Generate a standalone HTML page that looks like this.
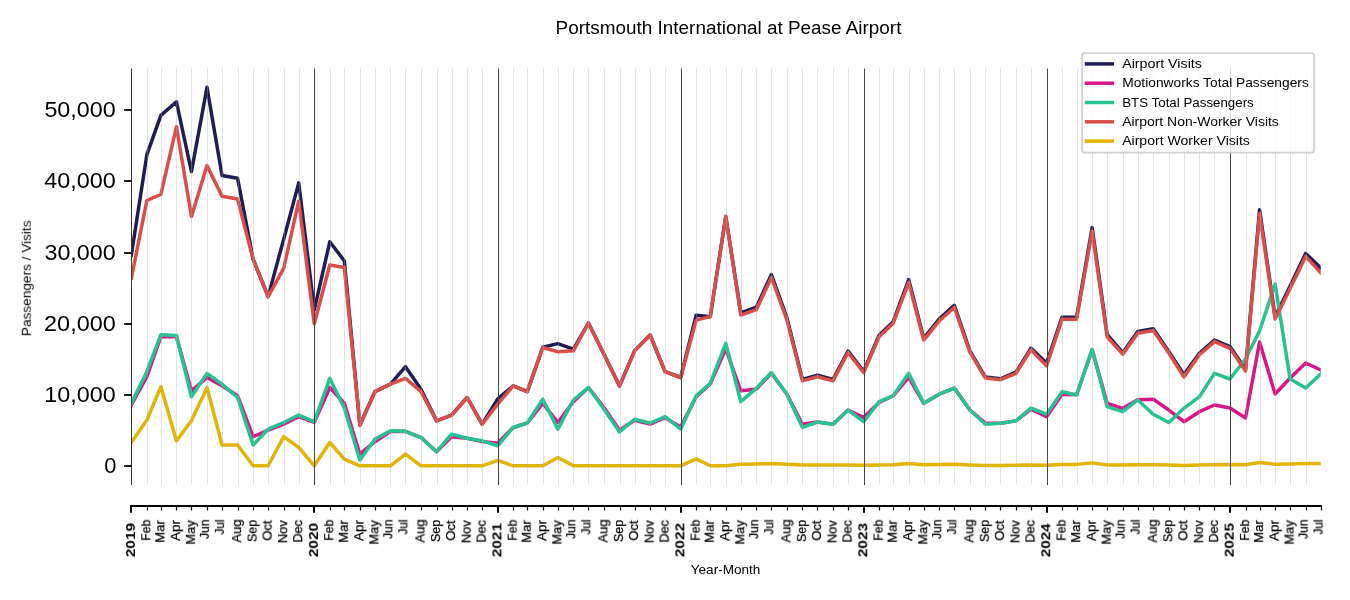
<!DOCTYPE html><html><head><meta charset="utf-8"><title>Portsmouth International at Pease Airport</title>
<style>html,body{margin:0;padding:0;background:#fff;}svg{display:block;font-family:"Liberation Sans",sans-serif;}text{will-change:transform;}.m{stroke:#000;stroke-width:0.25px;}</style></head><body>
<svg width="1350" height="600" viewBox="0 0 1350 600">
<rect width="1350" height="600" fill="#fff"/>
<defs><clipPath id="ax"><rect x="131.32" y="68.5" width="1189.43" height="416.5"/></clipPath></defs>
<g clip-path="url(#ax)" fill="none" stroke-width="3.5" stroke-linejoin="round" stroke-linecap="square">
<polyline points="131.32,254.99 146.86,154.71 160.89,115.33 176.43,101.79 191.47,171.52 207.00,87.34 222.04,175.44 237.58,178.28 253.12,259.26 268.15,296.65 283.69,239.18 298.73,182.91 314.27,309.83 329.80,241.74 344.34,260.90 359.88,424.99 374.91,391.66 390.45,384.18 405.49,366.66 421.03,389.17 436.56,420.86 451.60,415.02 467.14,397.50 482.17,424.21 497.71,398.85 513.25,385.82 527.28,391.66 542.82,347.22 557.86,343.66 573.40,349.14 588.43,323.00 603.97,354.20 619.51,386.10 634.54,350.85 650.08,334.97 665.12,371.72 680.66,377.49 696.19,315.17 710.23,316.67 725.77,216.53 740.80,312.89 756.34,307.19 771.38,274.50 786.92,317.88 802.45,379.41 817.49,375.28 833.03,379.41 848.06,351.06 863.60,371.43 879.14,335.25 893.17,321.65 908.71,279.56 923.75,338.32 939.29,318.87 954.32,305.34 969.86,350.78 985.40,377.06 1000.44,378.77 1015.97,372.22 1031.01,348.29 1046.55,363.10 1062.09,317.16 1076.62,317.16 1092.16,227.64 1107.20,334.76 1122.73,352.70 1137.77,331.55 1153.31,328.84 1168.85,351.85 1183.88,374.42 1199.42,353.27 1214.46,340.10 1229.99,346.51 1245.53,369.41 1259.57,209.84 1275.10,316.81 1290.14,285.97 1305.68,253.42 1320.72,267.81" stroke="#1f1e54"/>
<polyline points="131.32,404.98 146.86,376.70 160.89,336.68 176.43,336.68 191.47,390.81 207.00,377.49 222.04,385.82 237.58,395.79 253.12,436.67 268.15,430.19 283.69,424.14 298.73,416.66 314.27,422.36 329.80,387.46 344.34,403.30 359.88,454.19 374.91,441.66 390.45,431.61 405.49,431.33 421.03,437.53 436.56,451.70 451.60,436.67 467.14,438.31 482.17,441.59 497.71,443.29 513.25,427.48 527.28,423.00 542.82,403.30 557.86,422.50 573.40,401.70 588.43,387.53 603.97,407.47 619.51,430.19 634.54,420.22 650.08,424.14 665.12,417.73 680.66,426.99 696.19,396.72 710.23,383.90 725.77,349.00 740.80,390.81 756.34,389.17 771.38,373.21 786.92,394.22 802.45,424.21 817.49,422.00 833.03,424.21 848.06,410.03 863.60,417.51 879.14,402.41 893.17,395.79 908.71,377.49 923.75,403.30 939.29,394.22 954.32,388.03 969.86,410.03 985.40,423.07 1000.44,423.35 1015.97,420.86 1031.01,409.18 1046.55,416.66 1062.09,394.22 1076.62,394.58 1092.16,350.00 1107.20,403.30 1122.73,408.33 1137.77,399.78 1153.31,399.21 1168.85,410.03 1183.88,421.71 1199.42,411.67 1214.46,404.98 1229.99,407.97 1245.53,418.01 1259.57,342.02 1275.10,394.01 1290.14,377.99 1305.68,362.96 1320.72,370.01" stroke="#d71788"/>
<polyline points="131.32,403.30 146.86,371.72 160.89,334.68 176.43,335.47 191.47,396.72 207.00,373.36 222.04,384.18 237.58,397.50 253.12,445.00 268.15,429.19 283.69,422.50 298.73,415.02 314.27,421.71 329.80,378.34 344.34,408.33 359.88,460.03 374.91,439.16 390.45,430.83 405.49,431.33 421.03,437.53 436.56,451.70 451.60,434.18 467.14,438.31 482.17,440.80 497.71,445.79 513.25,427.48 527.28,423.00 542.82,399.21 557.86,429.19 573.40,399.99 588.43,387.53 603.97,409.18 619.51,431.97 634.54,419.22 650.08,423.00 665.12,416.66 680.66,429.19 696.19,395.79 710.23,383.33 725.77,343.30 740.80,401.70 756.34,388.31 771.38,372.50 786.92,394.22 802.45,427.48 817.49,422.00 833.03,424.21 848.06,410.03 863.60,421.71 879.14,401.70 893.17,395.79 908.71,373.36 923.75,403.30 939.29,394.22 954.32,388.03 969.86,410.03 985.40,424.21 1000.44,423.35 1015.97,420.86 1031.01,408.04 1046.55,414.17 1062.09,391.66 1076.62,395.01 1092.16,349.43 1107.20,406.69 1122.73,411.67 1137.77,399.99 1153.31,414.17 1168.85,422.50 1183.88,408.33 1199.42,396.72 1214.46,373.36 1229.99,378.98 1245.53,358.97 1259.57,330.98 1275.10,283.98 1290.14,378.98 1305.68,388.03 1320.72,374.00" stroke="#26c292"/>
<polyline points="131.32,278.28 146.86,200.51 160.89,194.45 176.43,126.79 191.47,216.53 207.00,165.61 222.04,196.23 237.58,199.08 253.12,259.26 268.15,296.65 283.69,268.31 298.73,201.22 314.27,323.72 329.80,265.03 344.34,267.52 359.88,424.99 374.91,391.66 390.45,384.18 405.49,378.34 421.03,391.66 436.56,420.86 451.60,415.02 467.14,397.50 482.17,424.21 497.71,404.19 513.25,385.82 527.28,391.66 542.82,347.50 557.86,351.71 573.40,350.85 588.43,323.00 603.97,354.20 619.51,386.10 634.54,350.85 650.08,334.97 665.12,371.72 680.66,377.49 696.19,320.16 710.23,316.67 725.77,216.53 740.80,315.03 756.34,309.69 771.38,277.49 786.92,320.01 802.45,380.83 817.49,376.70 833.03,380.83 848.06,352.49 863.60,372.50 879.14,336.68 893.17,323.36 908.71,282.48 923.75,340.03 939.29,320.80 954.32,307.48 969.86,352.20 985.40,377.99 1000.44,379.70 1015.97,373.36 1031.01,349.71 1046.55,365.88 1062.09,319.16 1076.62,319.16 1092.16,231.13 1107.20,336.96 1122.73,354.13 1137.77,333.19 1153.31,330.48 1168.85,353.27 1183.88,376.92 1199.42,354.70 1214.46,341.66 1229.99,348.29 1245.53,371.01 1259.57,213.61 1275.10,319.02 1290.14,288.46 1305.68,256.41 1320.72,272.79" stroke="#d94e4a"/>
<polyline points="131.32,442.51 146.86,420.01 160.89,386.67 176.43,440.80 191.47,420.79 207.00,387.53 222.04,445.00 237.58,445.00 253.12,465.80 268.15,465.80 283.69,436.67 298.73,447.50 314.27,465.80 329.80,442.51 344.34,459.18 359.88,465.80 374.91,465.80 390.45,465.80 405.49,454.19 421.03,465.80 436.56,465.80 451.60,465.80 467.14,465.80 482.17,465.80 497.71,460.46 513.25,465.80 527.28,465.80 542.82,465.80 557.86,457.47 573.40,465.80 588.43,465.80 603.97,465.80 619.51,465.80 634.54,465.80 650.08,465.80 665.12,465.80 680.66,465.80 696.19,458.89 710.23,465.80 725.77,465.80 740.80,464.23 756.34,463.88 771.38,463.38 786.92,464.23 802.45,464.95 817.49,464.95 833.03,464.95 848.06,464.95 863.60,465.30 879.14,464.95 893.17,464.66 908.71,463.45 923.75,464.66 939.29,464.45 954.32,464.23 969.86,464.95 985.40,465.44 1000.44,465.44 1015.97,465.23 1031.01,464.95 1046.55,465.30 1062.09,464.38 1076.62,464.38 1092.16,462.88 1107.20,464.95 1122.73,464.95 1137.77,464.73 1153.31,464.73 1168.85,464.95 1183.88,465.44 1199.42,464.95 1214.46,464.80 1229.99,464.59 1245.53,464.77 1259.57,462.60 1275.10,464.16 1290.14,463.88 1305.68,463.38 1320.72,463.38" stroke="#e2b404"/>
</g>
<g stroke="#b0b0b0" stroke-opacity="0.35" stroke-width="1">
<line x1="147.5" y1="68.5" x2="147.5" y2="485.0"/>
<line x1="161.5" y1="68.5" x2="161.5" y2="485.0"/>
<line x1="176.5" y1="68.5" x2="176.5" y2="485.0"/>
<line x1="191.5" y1="68.5" x2="191.5" y2="485.0"/>
<line x1="207.5" y1="68.5" x2="207.5" y2="485.0"/>
<line x1="222.5" y1="68.5" x2="222.5" y2="485.0"/>
<line x1="238.5" y1="68.5" x2="238.5" y2="485.0"/>
<line x1="253.5" y1="68.5" x2="253.5" y2="485.0"/>
<line x1="268.5" y1="68.5" x2="268.5" y2="485.0"/>
<line x1="284.5" y1="68.5" x2="284.5" y2="485.0"/>
<line x1="299.5" y1="68.5" x2="299.5" y2="485.0"/>
<line x1="330.5" y1="68.5" x2="330.5" y2="485.0"/>
<line x1="344.5" y1="68.5" x2="344.5" y2="485.0"/>
<line x1="360.5" y1="68.5" x2="360.5" y2="485.0"/>
<line x1="375.5" y1="68.5" x2="375.5" y2="485.0"/>
<line x1="390.5" y1="68.5" x2="390.5" y2="485.0"/>
<line x1="405.5" y1="68.5" x2="405.5" y2="485.0"/>
<line x1="421.5" y1="68.5" x2="421.5" y2="485.0"/>
<line x1="437.5" y1="68.5" x2="437.5" y2="485.0"/>
<line x1="452.5" y1="68.5" x2="452.5" y2="485.0"/>
<line x1="467.5" y1="68.5" x2="467.5" y2="485.0"/>
<line x1="482.5" y1="68.5" x2="482.5" y2="485.0"/>
<line x1="513.5" y1="68.5" x2="513.5" y2="485.0"/>
<line x1="527.5" y1="68.5" x2="527.5" y2="485.0"/>
<line x1="543.5" y1="68.5" x2="543.5" y2="485.0"/>
<line x1="558.5" y1="68.5" x2="558.5" y2="485.0"/>
<line x1="573.5" y1="68.5" x2="573.5" y2="485.0"/>
<line x1="588.5" y1="68.5" x2="588.5" y2="485.0"/>
<line x1="604.5" y1="68.5" x2="604.5" y2="485.0"/>
<line x1="620.5" y1="68.5" x2="620.5" y2="485.0"/>
<line x1="635.5" y1="68.5" x2="635.5" y2="485.0"/>
<line x1="650.5" y1="68.5" x2="650.5" y2="485.0"/>
<line x1="665.5" y1="68.5" x2="665.5" y2="485.0"/>
<line x1="696.5" y1="68.5" x2="696.5" y2="485.0"/>
<line x1="710.5" y1="68.5" x2="710.5" y2="485.0"/>
<line x1="726.5" y1="68.5" x2="726.5" y2="485.0"/>
<line x1="741.5" y1="68.5" x2="741.5" y2="485.0"/>
<line x1="756.5" y1="68.5" x2="756.5" y2="485.0"/>
<line x1="771.5" y1="68.5" x2="771.5" y2="485.0"/>
<line x1="787.5" y1="68.5" x2="787.5" y2="485.0"/>
<line x1="802.5" y1="68.5" x2="802.5" y2="485.0"/>
<line x1="817.5" y1="68.5" x2="817.5" y2="485.0"/>
<line x1="833.5" y1="68.5" x2="833.5" y2="485.0"/>
<line x1="848.5" y1="68.5" x2="848.5" y2="485.0"/>
<line x1="879.5" y1="68.5" x2="879.5" y2="485.0"/>
<line x1="893.5" y1="68.5" x2="893.5" y2="485.0"/>
<line x1="909.5" y1="68.5" x2="909.5" y2="485.0"/>
<line x1="924.5" y1="68.5" x2="924.5" y2="485.0"/>
<line x1="939.5" y1="68.5" x2="939.5" y2="485.0"/>
<line x1="954.5" y1="68.5" x2="954.5" y2="485.0"/>
<line x1="970.5" y1="68.5" x2="970.5" y2="485.0"/>
<line x1="985.5" y1="68.5" x2="985.5" y2="485.0"/>
<line x1="1000.5" y1="68.5" x2="1000.5" y2="485.0"/>
<line x1="1016.5" y1="68.5" x2="1016.5" y2="485.0"/>
<line x1="1031.5" y1="68.5" x2="1031.5" y2="485.0"/>
<line x1="1062.5" y1="68.5" x2="1062.5" y2="485.0"/>
<line x1="1077.5" y1="68.5" x2="1077.5" y2="485.0"/>
<line x1="1092.5" y1="68.5" x2="1092.5" y2="485.0"/>
<line x1="1107.5" y1="68.5" x2="1107.5" y2="485.0"/>
<line x1="1123.5" y1="68.5" x2="1123.5" y2="485.0"/>
<line x1="1138.5" y1="68.5" x2="1138.5" y2="485.0"/>
<line x1="1153.5" y1="68.5" x2="1153.5" y2="485.0"/>
<line x1="1169.5" y1="68.5" x2="1169.5" y2="485.0"/>
<line x1="1184.5" y1="68.5" x2="1184.5" y2="485.0"/>
<line x1="1199.5" y1="68.5" x2="1199.5" y2="485.0"/>
<line x1="1214.5" y1="68.5" x2="1214.5" y2="485.0"/>
<line x1="1246.5" y1="68.5" x2="1246.5" y2="485.0"/>
<line x1="1260.5" y1="68.5" x2="1260.5" y2="485.0"/>
<line x1="1275.5" y1="68.5" x2="1275.5" y2="485.0"/>
<line x1="1290.5" y1="68.5" x2="1290.5" y2="485.0"/>
<line x1="1306.5" y1="68.5" x2="1306.5" y2="485.0"/>
</g>
<g stroke="#464646" stroke-width="1">
<line x1="314.5" y1="68.5" x2="314.5" y2="485.0"/>
<line x1="498.5" y1="68.5" x2="498.5" y2="485.0"/>
<line x1="681.5" y1="68.5" x2="681.5" y2="485.0"/>
<line x1="864.5" y1="68.5" x2="864.5" y2="485.0"/>
<line x1="1047.5" y1="68.5" x2="1047.5" y2="485.0"/>
<line x1="1230.5" y1="68.5" x2="1230.5" y2="485.0"/>
</g>
<line x1="131.5" y1="68.5" x2="131.5" y2="485.0" stroke="#383838" stroke-width="1"/>
<line x1="124.1" y1="466" x2="131.5" y2="466" stroke="#000" stroke-width="1.8"/>
<text x="104.27" y="473.20" font-size="22.6" textLength="12.18" lengthAdjust="spacingAndGlyphs">0</text>
<line x1="124.1" y1="395" x2="131.5" y2="395" stroke="#000" stroke-width="1.8"/>
<text x="44.27" y="401.98" font-size="22.6" textLength="71.43" lengthAdjust="spacingAndGlyphs">10,000</text>
<line x1="124.1" y1="324" x2="131.5" y2="324" stroke="#000" stroke-width="1.8"/>
<text x="44.08" y="330.76" font-size="22.6" textLength="71.63" lengthAdjust="spacingAndGlyphs">20,000</text>
<line x1="124.1" y1="253" x2="131.5" y2="253" stroke="#000" stroke-width="1.8"/>
<text x="44.43" y="259.54" font-size="22.6" textLength="71.28" lengthAdjust="spacingAndGlyphs">30,000</text>
<line x1="124.1" y1="181" x2="131.5" y2="181" stroke="#000" stroke-width="1.8"/>
<text x="44.26" y="188.32" font-size="22.6" textLength="71.45" lengthAdjust="spacingAndGlyphs">40,000</text>
<line x1="124.1" y1="110" x2="131.5" y2="110" stroke="#000" stroke-width="1.8"/>
<text x="44.42" y="117.10" font-size="22.6" textLength="71.28" lengthAdjust="spacingAndGlyphs">50,000</text>
<line x1="130" y1="506" x2="1322" y2="506" stroke="#000" stroke-width="2"/>
<line x1="131" y1="506" x2="131" y2="512.75" stroke="#000" stroke-width="2"/>
<text transform="translate(134.97,557.24) rotate(-90)" font-size="12.2" font-weight="bold" textLength="34.31" lengthAdjust="spacingAndGlyphs">2019</text>
<line x1="147.5" y1="506" x2="147.5" y2="510.5" stroke="#000" stroke-width="1.2"/>
<text transform="translate(150.26,540.71) rotate(-90)" class="m" font-size="12.4" textLength="20.90" lengthAdjust="spacingAndGlyphs">Feb</text>
<line x1="161.5" y1="506" x2="161.5" y2="510.5" stroke="#000" stroke-width="1.2"/>
<text transform="translate(164.29,542.84) rotate(-90)" class="m" font-size="12.4" textLength="22.73" lengthAdjust="spacingAndGlyphs">Mar</text>
<line x1="176.5" y1="506" x2="176.5" y2="510.5" stroke="#000" stroke-width="1.2"/>
<text transform="translate(179.83,541.00) rotate(-90)" class="m" font-size="12.4" textLength="20.92" lengthAdjust="spacingAndGlyphs">Apr</text>
<line x1="191.5" y1="506" x2="191.5" y2="510.5" stroke="#000" stroke-width="1.2"/>
<text transform="translate(194.87,544.64) rotate(-90)" class="m" font-size="12.4" textLength="24.37" lengthAdjust="spacingAndGlyphs">May</text>
<line x1="207.5" y1="506" x2="207.5" y2="510.5" stroke="#000" stroke-width="1.2"/>
<text transform="translate(208.85,538.84) rotate(-90)" class="m" font-size="12.4" textLength="19.35" lengthAdjust="spacingAndGlyphs">Jun</text>
<line x1="222.5" y1="506" x2="222.5" y2="510.5" stroke="#000" stroke-width="1.2"/>
<text transform="translate(223.89,534.46) rotate(-90)" class="m" font-size="12.4" textLength="14.96" lengthAdjust="spacingAndGlyphs">Jul</text>
<line x1="238.5" y1="506" x2="238.5" y2="510.5" stroke="#000" stroke-width="1.2"/>
<text transform="translate(240.98,542.59) rotate(-90)" class="m" font-size="12.4" textLength="23.13" lengthAdjust="spacingAndGlyphs">Aug</text>
<line x1="253.5" y1="506" x2="253.5" y2="510.5" stroke="#000" stroke-width="1.2"/>
<text transform="translate(256.52,542.04) rotate(-90)" class="m" font-size="12.4" textLength="22.27" lengthAdjust="spacingAndGlyphs">Sep</text>
<line x1="268.5" y1="506" x2="268.5" y2="510.5" stroke="#000" stroke-width="1.2"/>
<text transform="translate(271.55,540.73) rotate(-90)" class="m" font-size="12.4" textLength="20.54" lengthAdjust="spacingAndGlyphs">Oct</text>
<line x1="284.5" y1="506" x2="284.5" y2="510.5" stroke="#000" stroke-width="1.2"/>
<text transform="translate(287.09,543.27) rotate(-90)" class="m" font-size="12.4" textLength="23.05" lengthAdjust="spacingAndGlyphs">Nov</text>
<line x1="299.5" y1="506" x2="299.5" y2="510.5" stroke="#000" stroke-width="1.2"/>
<text transform="translate(302.13,542.65) rotate(-90)" class="m" font-size="12.4" textLength="22.72" lengthAdjust="spacingAndGlyphs">Dec</text>
<line x1="314" y1="506" x2="314" y2="512.75" stroke="#000" stroke-width="2"/>
<text transform="translate(317.92,557.24) rotate(-90)" font-size="12.2" font-weight="bold" textLength="34.39" lengthAdjust="spacingAndGlyphs">2020</text>
<line x1="330.5" y1="506" x2="330.5" y2="510.5" stroke="#000" stroke-width="1.2"/>
<text transform="translate(333.20,540.71) rotate(-90)" class="m" font-size="12.4" textLength="20.90" lengthAdjust="spacingAndGlyphs">Feb</text>
<line x1="344.5" y1="506" x2="344.5" y2="510.5" stroke="#000" stroke-width="1.2"/>
<text transform="translate(347.74,542.84) rotate(-90)" class="m" font-size="12.4" textLength="22.73" lengthAdjust="spacingAndGlyphs">Mar</text>
<line x1="360.5" y1="506" x2="360.5" y2="510.5" stroke="#000" stroke-width="1.2"/>
<text transform="translate(363.28,541.00) rotate(-90)" class="m" font-size="12.4" textLength="20.92" lengthAdjust="spacingAndGlyphs">Apr</text>
<line x1="375.5" y1="506" x2="375.5" y2="510.5" stroke="#000" stroke-width="1.2"/>
<text transform="translate(378.31,544.64) rotate(-90)" class="m" font-size="12.4" textLength="24.37" lengthAdjust="spacingAndGlyphs">May</text>
<line x1="390.5" y1="506" x2="390.5" y2="510.5" stroke="#000" stroke-width="1.2"/>
<text transform="translate(392.30,538.84) rotate(-90)" class="m" font-size="12.4" textLength="19.35" lengthAdjust="spacingAndGlyphs">Jun</text>
<line x1="405.5" y1="506" x2="405.5" y2="510.5" stroke="#000" stroke-width="1.2"/>
<text transform="translate(407.34,534.46) rotate(-90)" class="m" font-size="12.4" textLength="14.96" lengthAdjust="spacingAndGlyphs">Jul</text>
<line x1="421.5" y1="506" x2="421.5" y2="510.5" stroke="#000" stroke-width="1.2"/>
<text transform="translate(424.43,542.59) rotate(-90)" class="m" font-size="12.4" textLength="23.13" lengthAdjust="spacingAndGlyphs">Aug</text>
<line x1="437.5" y1="506" x2="437.5" y2="510.5" stroke="#000" stroke-width="1.2"/>
<text transform="translate(439.96,542.04) rotate(-90)" class="m" font-size="12.4" textLength="22.27" lengthAdjust="spacingAndGlyphs">Sep</text>
<line x1="452.5" y1="506" x2="452.5" y2="510.5" stroke="#000" stroke-width="1.2"/>
<text transform="translate(455.00,540.73) rotate(-90)" class="m" font-size="12.4" textLength="20.54" lengthAdjust="spacingAndGlyphs">Oct</text>
<line x1="467.5" y1="506" x2="467.5" y2="510.5" stroke="#000" stroke-width="1.2"/>
<text transform="translate(470.54,543.27) rotate(-90)" class="m" font-size="12.4" textLength="23.05" lengthAdjust="spacingAndGlyphs">Nov</text>
<line x1="482.5" y1="506" x2="482.5" y2="510.5" stroke="#000" stroke-width="1.2"/>
<text transform="translate(485.57,542.65) rotate(-90)" class="m" font-size="12.4" textLength="22.72" lengthAdjust="spacingAndGlyphs">Dec</text>
<line x1="498" y1="506" x2="498" y2="512.75" stroke="#000" stroke-width="2"/>
<text transform="translate(501.36,557.24) rotate(-90)" font-size="12.2" font-weight="bold" textLength="34.19" lengthAdjust="spacingAndGlyphs">2021</text>
<line x1="513.5" y1="506" x2="513.5" y2="510.5" stroke="#000" stroke-width="1.2"/>
<text transform="translate(516.65,540.71) rotate(-90)" class="m" font-size="12.4" textLength="20.90" lengthAdjust="spacingAndGlyphs">Feb</text>
<line x1="527.5" y1="506" x2="527.5" y2="510.5" stroke="#000" stroke-width="1.2"/>
<text transform="translate(530.68,542.84) rotate(-90)" class="m" font-size="12.4" textLength="22.73" lengthAdjust="spacingAndGlyphs">Mar</text>
<line x1="543.5" y1="506" x2="543.5" y2="510.5" stroke="#000" stroke-width="1.2"/>
<text transform="translate(546.22,541.00) rotate(-90)" class="m" font-size="12.4" textLength="20.92" lengthAdjust="spacingAndGlyphs">Apr</text>
<line x1="558.5" y1="506" x2="558.5" y2="510.5" stroke="#000" stroke-width="1.2"/>
<text transform="translate(561.26,544.64) rotate(-90)" class="m" font-size="12.4" textLength="24.37" lengthAdjust="spacingAndGlyphs">May</text>
<line x1="573.5" y1="506" x2="573.5" y2="510.5" stroke="#000" stroke-width="1.2"/>
<text transform="translate(575.25,538.84) rotate(-90)" class="m" font-size="12.4" textLength="19.35" lengthAdjust="spacingAndGlyphs">Jun</text>
<line x1="588.5" y1="506" x2="588.5" y2="510.5" stroke="#000" stroke-width="1.2"/>
<text transform="translate(590.28,534.46) rotate(-90)" class="m" font-size="12.4" textLength="14.96" lengthAdjust="spacingAndGlyphs">Jul</text>
<line x1="604.5" y1="506" x2="604.5" y2="510.5" stroke="#000" stroke-width="1.2"/>
<text transform="translate(607.37,542.59) rotate(-90)" class="m" font-size="12.4" textLength="23.13" lengthAdjust="spacingAndGlyphs">Aug</text>
<line x1="620.5" y1="506" x2="620.5" y2="510.5" stroke="#000" stroke-width="1.2"/>
<text transform="translate(622.91,542.04) rotate(-90)" class="m" font-size="12.4" textLength="22.27" lengthAdjust="spacingAndGlyphs">Sep</text>
<line x1="635.5" y1="506" x2="635.5" y2="510.5" stroke="#000" stroke-width="1.2"/>
<text transform="translate(637.94,540.73) rotate(-90)" class="m" font-size="12.4" textLength="20.54" lengthAdjust="spacingAndGlyphs">Oct</text>
<line x1="650.5" y1="506" x2="650.5" y2="510.5" stroke="#000" stroke-width="1.2"/>
<text transform="translate(653.48,543.27) rotate(-90)" class="m" font-size="12.4" textLength="23.05" lengthAdjust="spacingAndGlyphs">Nov</text>
<line x1="665.5" y1="506" x2="665.5" y2="510.5" stroke="#000" stroke-width="1.2"/>
<text transform="translate(668.52,542.65) rotate(-90)" class="m" font-size="12.4" textLength="22.72" lengthAdjust="spacingAndGlyphs">Dec</text>
<line x1="681" y1="506" x2="681" y2="512.75" stroke="#000" stroke-width="2"/>
<text transform="translate(684.31,557.24) rotate(-90)" font-size="12.2" font-weight="bold" textLength="34.39" lengthAdjust="spacingAndGlyphs">2022</text>
<line x1="696.5" y1="506" x2="696.5" y2="510.5" stroke="#000" stroke-width="1.2"/>
<text transform="translate(699.59,540.71) rotate(-90)" class="m" font-size="12.4" textLength="20.90" lengthAdjust="spacingAndGlyphs">Feb</text>
<line x1="710.5" y1="506" x2="710.5" y2="510.5" stroke="#000" stroke-width="1.2"/>
<text transform="translate(713.63,542.84) rotate(-90)" class="m" font-size="12.4" textLength="22.73" lengthAdjust="spacingAndGlyphs">Mar</text>
<line x1="726.5" y1="506" x2="726.5" y2="510.5" stroke="#000" stroke-width="1.2"/>
<text transform="translate(729.17,541.00) rotate(-90)" class="m" font-size="12.4" textLength="20.92" lengthAdjust="spacingAndGlyphs">Apr</text>
<line x1="741.5" y1="506" x2="741.5" y2="510.5" stroke="#000" stroke-width="1.2"/>
<text transform="translate(744.20,544.64) rotate(-90)" class="m" font-size="12.4" textLength="24.37" lengthAdjust="spacingAndGlyphs">May</text>
<line x1="756.5" y1="506" x2="756.5" y2="510.5" stroke="#000" stroke-width="1.2"/>
<text transform="translate(758.19,538.84) rotate(-90)" class="m" font-size="12.4" textLength="19.35" lengthAdjust="spacingAndGlyphs">Jun</text>
<line x1="771.5" y1="506" x2="771.5" y2="510.5" stroke="#000" stroke-width="1.2"/>
<text transform="translate(773.23,534.46) rotate(-90)" class="m" font-size="12.4" textLength="14.96" lengthAdjust="spacingAndGlyphs">Jul</text>
<line x1="787.5" y1="506" x2="787.5" y2="510.5" stroke="#000" stroke-width="1.2"/>
<text transform="translate(790.32,542.59) rotate(-90)" class="m" font-size="12.4" textLength="23.13" lengthAdjust="spacingAndGlyphs">Aug</text>
<line x1="802.5" y1="506" x2="802.5" y2="510.5" stroke="#000" stroke-width="1.2"/>
<text transform="translate(805.85,542.04) rotate(-90)" class="m" font-size="12.4" textLength="22.27" lengthAdjust="spacingAndGlyphs">Sep</text>
<line x1="817.5" y1="506" x2="817.5" y2="510.5" stroke="#000" stroke-width="1.2"/>
<text transform="translate(820.89,540.73) rotate(-90)" class="m" font-size="12.4" textLength="20.54" lengthAdjust="spacingAndGlyphs">Oct</text>
<line x1="833.5" y1="506" x2="833.5" y2="510.5" stroke="#000" stroke-width="1.2"/>
<text transform="translate(836.43,543.27) rotate(-90)" class="m" font-size="12.4" textLength="23.05" lengthAdjust="spacingAndGlyphs">Nov</text>
<line x1="848.5" y1="506" x2="848.5" y2="510.5" stroke="#000" stroke-width="1.2"/>
<text transform="translate(851.46,542.65) rotate(-90)" class="m" font-size="12.4" textLength="22.72" lengthAdjust="spacingAndGlyphs">Dec</text>
<line x1="864" y1="506" x2="864" y2="512.75" stroke="#000" stroke-width="2"/>
<text transform="translate(867.25,557.24) rotate(-90)" font-size="12.2" font-weight="bold" textLength="34.31" lengthAdjust="spacingAndGlyphs">2023</text>
<line x1="879.5" y1="506" x2="879.5" y2="510.5" stroke="#000" stroke-width="1.2"/>
<text transform="translate(882.54,540.71) rotate(-90)" class="m" font-size="12.4" textLength="20.90" lengthAdjust="spacingAndGlyphs">Feb</text>
<line x1="893.5" y1="506" x2="893.5" y2="510.5" stroke="#000" stroke-width="1.2"/>
<text transform="translate(896.57,542.84) rotate(-90)" class="m" font-size="12.4" textLength="22.73" lengthAdjust="spacingAndGlyphs">Mar</text>
<line x1="909.5" y1="506" x2="909.5" y2="510.5" stroke="#000" stroke-width="1.2"/>
<text transform="translate(912.11,541.00) rotate(-90)" class="m" font-size="12.4" textLength="20.92" lengthAdjust="spacingAndGlyphs">Apr</text>
<line x1="924.5" y1="506" x2="924.5" y2="510.5" stroke="#000" stroke-width="1.2"/>
<text transform="translate(927.15,544.64) rotate(-90)" class="m" font-size="12.4" textLength="24.37" lengthAdjust="spacingAndGlyphs">May</text>
<line x1="939.5" y1="506" x2="939.5" y2="510.5" stroke="#000" stroke-width="1.2"/>
<text transform="translate(941.14,538.84) rotate(-90)" class="m" font-size="12.4" textLength="19.35" lengthAdjust="spacingAndGlyphs">Jun</text>
<line x1="954.5" y1="506" x2="954.5" y2="510.5" stroke="#000" stroke-width="1.2"/>
<text transform="translate(956.17,534.46) rotate(-90)" class="m" font-size="12.4" textLength="14.96" lengthAdjust="spacingAndGlyphs">Jul</text>
<line x1="970.5" y1="506" x2="970.5" y2="510.5" stroke="#000" stroke-width="1.2"/>
<text transform="translate(973.26,542.59) rotate(-90)" class="m" font-size="12.4" textLength="23.13" lengthAdjust="spacingAndGlyphs">Aug</text>
<line x1="985.5" y1="506" x2="985.5" y2="510.5" stroke="#000" stroke-width="1.2"/>
<text transform="translate(988.80,542.04) rotate(-90)" class="m" font-size="12.4" textLength="22.27" lengthAdjust="spacingAndGlyphs">Sep</text>
<line x1="1000.5" y1="506" x2="1000.5" y2="510.5" stroke="#000" stroke-width="1.2"/>
<text transform="translate(1003.84,540.73) rotate(-90)" class="m" font-size="12.4" textLength="20.54" lengthAdjust="spacingAndGlyphs">Oct</text>
<line x1="1016.5" y1="506" x2="1016.5" y2="510.5" stroke="#000" stroke-width="1.2"/>
<text transform="translate(1019.37,543.27) rotate(-90)" class="m" font-size="12.4" textLength="23.05" lengthAdjust="spacingAndGlyphs">Nov</text>
<line x1="1031.5" y1="506" x2="1031.5" y2="510.5" stroke="#000" stroke-width="1.2"/>
<text transform="translate(1034.41,542.65) rotate(-90)" class="m" font-size="12.4" textLength="22.72" lengthAdjust="spacingAndGlyphs">Dec</text>
<line x1="1047" y1="506" x2="1047" y2="512.75" stroke="#000" stroke-width="2"/>
<text transform="translate(1050.20,557.23) rotate(-90)" font-size="12.2" font-weight="bold" textLength="33.84" lengthAdjust="spacingAndGlyphs">2024</text>
<line x1="1062.5" y1="506" x2="1062.5" y2="510.5" stroke="#000" stroke-width="1.2"/>
<text transform="translate(1065.49,540.71) rotate(-90)" class="m" font-size="12.4" textLength="20.90" lengthAdjust="spacingAndGlyphs">Feb</text>
<line x1="1077.5" y1="506" x2="1077.5" y2="510.5" stroke="#000" stroke-width="1.2"/>
<text transform="translate(1080.02,542.84) rotate(-90)" class="m" font-size="12.4" textLength="22.73" lengthAdjust="spacingAndGlyphs">Mar</text>
<line x1="1092.5" y1="506" x2="1092.5" y2="510.5" stroke="#000" stroke-width="1.2"/>
<text transform="translate(1095.56,541.00) rotate(-90)" class="m" font-size="12.4" textLength="20.92" lengthAdjust="spacingAndGlyphs">Apr</text>
<line x1="1107.5" y1="506" x2="1107.5" y2="510.5" stroke="#000" stroke-width="1.2"/>
<text transform="translate(1110.60,544.64) rotate(-90)" class="m" font-size="12.4" textLength="24.37" lengthAdjust="spacingAndGlyphs">May</text>
<line x1="1123.5" y1="506" x2="1123.5" y2="510.5" stroke="#000" stroke-width="1.2"/>
<text transform="translate(1124.58,538.84) rotate(-90)" class="m" font-size="12.4" textLength="19.35" lengthAdjust="spacingAndGlyphs">Jun</text>
<line x1="1138.5" y1="506" x2="1138.5" y2="510.5" stroke="#000" stroke-width="1.2"/>
<text transform="translate(1139.62,534.46) rotate(-90)" class="m" font-size="12.4" textLength="14.96" lengthAdjust="spacingAndGlyphs">Jul</text>
<line x1="1153.5" y1="506" x2="1153.5" y2="510.5" stroke="#000" stroke-width="1.2"/>
<text transform="translate(1156.71,542.59) rotate(-90)" class="m" font-size="12.4" textLength="23.13" lengthAdjust="spacingAndGlyphs">Aug</text>
<line x1="1169.5" y1="506" x2="1169.5" y2="510.5" stroke="#000" stroke-width="1.2"/>
<text transform="translate(1172.25,542.04) rotate(-90)" class="m" font-size="12.4" textLength="22.27" lengthAdjust="spacingAndGlyphs">Sep</text>
<line x1="1184.5" y1="506" x2="1184.5" y2="510.5" stroke="#000" stroke-width="1.2"/>
<text transform="translate(1187.28,540.73) rotate(-90)" class="m" font-size="12.4" textLength="20.54" lengthAdjust="spacingAndGlyphs">Oct</text>
<line x1="1199.5" y1="506" x2="1199.5" y2="510.5" stroke="#000" stroke-width="1.2"/>
<text transform="translate(1202.82,543.27) rotate(-90)" class="m" font-size="12.4" textLength="23.05" lengthAdjust="spacingAndGlyphs">Nov</text>
<line x1="1214.5" y1="506" x2="1214.5" y2="510.5" stroke="#000" stroke-width="1.2"/>
<text transform="translate(1217.86,542.65) rotate(-90)" class="m" font-size="12.4" textLength="22.72" lengthAdjust="spacingAndGlyphs">Dec</text>
<line x1="1230" y1="506" x2="1230" y2="512.75" stroke="#000" stroke-width="2"/>
<text transform="translate(1233.64,557.24) rotate(-90)" font-size="12.2" font-weight="bold" textLength="34.19" lengthAdjust="spacingAndGlyphs">2025</text>
<line x1="1246.5" y1="506" x2="1246.5" y2="510.5" stroke="#000" stroke-width="1.2"/>
<text transform="translate(1248.93,540.71) rotate(-90)" class="m" font-size="12.4" textLength="20.90" lengthAdjust="spacingAndGlyphs">Feb</text>
<line x1="1260.5" y1="506" x2="1260.5" y2="510.5" stroke="#000" stroke-width="1.2"/>
<text transform="translate(1262.97,542.84) rotate(-90)" class="m" font-size="12.4" textLength="22.73" lengthAdjust="spacingAndGlyphs">Mar</text>
<line x1="1275.5" y1="506" x2="1275.5" y2="510.5" stroke="#000" stroke-width="1.2"/>
<text transform="translate(1278.50,541.00) rotate(-90)" class="m" font-size="12.4" textLength="20.92" lengthAdjust="spacingAndGlyphs">Apr</text>
<line x1="1290.5" y1="506" x2="1290.5" y2="510.5" stroke="#000" stroke-width="1.2"/>
<text transform="translate(1293.54,544.64) rotate(-90)" class="m" font-size="12.4" textLength="24.37" lengthAdjust="spacingAndGlyphs">May</text>
<line x1="1306.5" y1="506" x2="1306.5" y2="510.5" stroke="#000" stroke-width="1.2"/>
<text transform="translate(1307.53,538.84) rotate(-90)" class="m" font-size="12.4" textLength="19.35" lengthAdjust="spacingAndGlyphs">Jun</text>
<line x1="1321.5" y1="506" x2="1321.5" y2="510.5" stroke="#000" stroke-width="1.2"/>
<text transform="translate(1322.57,534.46) rotate(-90)" class="m" font-size="12.4" textLength="14.96" lengthAdjust="spacingAndGlyphs">Jul</text>
<text x="555.64" y="33.85" font-size="17.5" textLength="345.79" lengthAdjust="spacingAndGlyphs">Portsmouth International at Pease Airport</text>
<text x="690.80" y="573.90" font-size="12.9" textLength="69.50" lengthAdjust="spacingAndGlyphs">Year-Month</text>
<text transform="translate(30.8,336.22) rotate(-90)" x="0.09" font-size="12.9" textLength="115.64" lengthAdjust="spacingAndGlyphs">Passengers / Visits</text>
<rect x="1082.1" y="53.0" width="231.9" height="99.7" rx="2.8" ry="2.8" fill="#fff" fill-opacity="0.8" stroke="#cfcfcf" stroke-width="1.7"/>
<line x1="1086.55" y1="63.90" x2="1112.35" y2="63.90" stroke="#1f1e54" stroke-width="3.5" stroke-linecap="square"/>
<text x="1122.16" y="68.00" font-size="12.9" textLength="79.74" lengthAdjust="spacingAndGlyphs">Airport Visits</text>
<line x1="1086.55" y1="83.20" x2="1112.35" y2="83.20" stroke="#d71788" stroke-width="3.5" stroke-linecap="square"/>
<text x="1122.19" y="87.30" font-size="12.9" textLength="186.60" lengthAdjust="spacingAndGlyphs">Motionworks Total Passengers</text>
<line x1="1086.55" y1="102.50" x2="1112.35" y2="102.50" stroke="#26c292" stroke-width="3.5" stroke-linecap="square"/>
<text x="1122.23" y="106.60" font-size="12.9" textLength="131.58" lengthAdjust="spacingAndGlyphs">BTS Total Passengers</text>
<line x1="1086.55" y1="121.80" x2="1112.35" y2="121.80" stroke="#d94e4a" stroke-width="3.5" stroke-linecap="square"/>
<text x="1122.17" y="125.90" font-size="12.9" textLength="156.66" lengthAdjust="spacingAndGlyphs">Airport Non-Worker Visits</text>
<line x1="1086.55" y1="141.10" x2="1112.35" y2="141.10" stroke="#e2b404" stroke-width="3.5" stroke-linecap="square"/>
<text x="1122.16" y="145.20" font-size="12.9" textLength="127.73" lengthAdjust="spacingAndGlyphs">Airport Worker Visits</text>
</svg></body></html>
